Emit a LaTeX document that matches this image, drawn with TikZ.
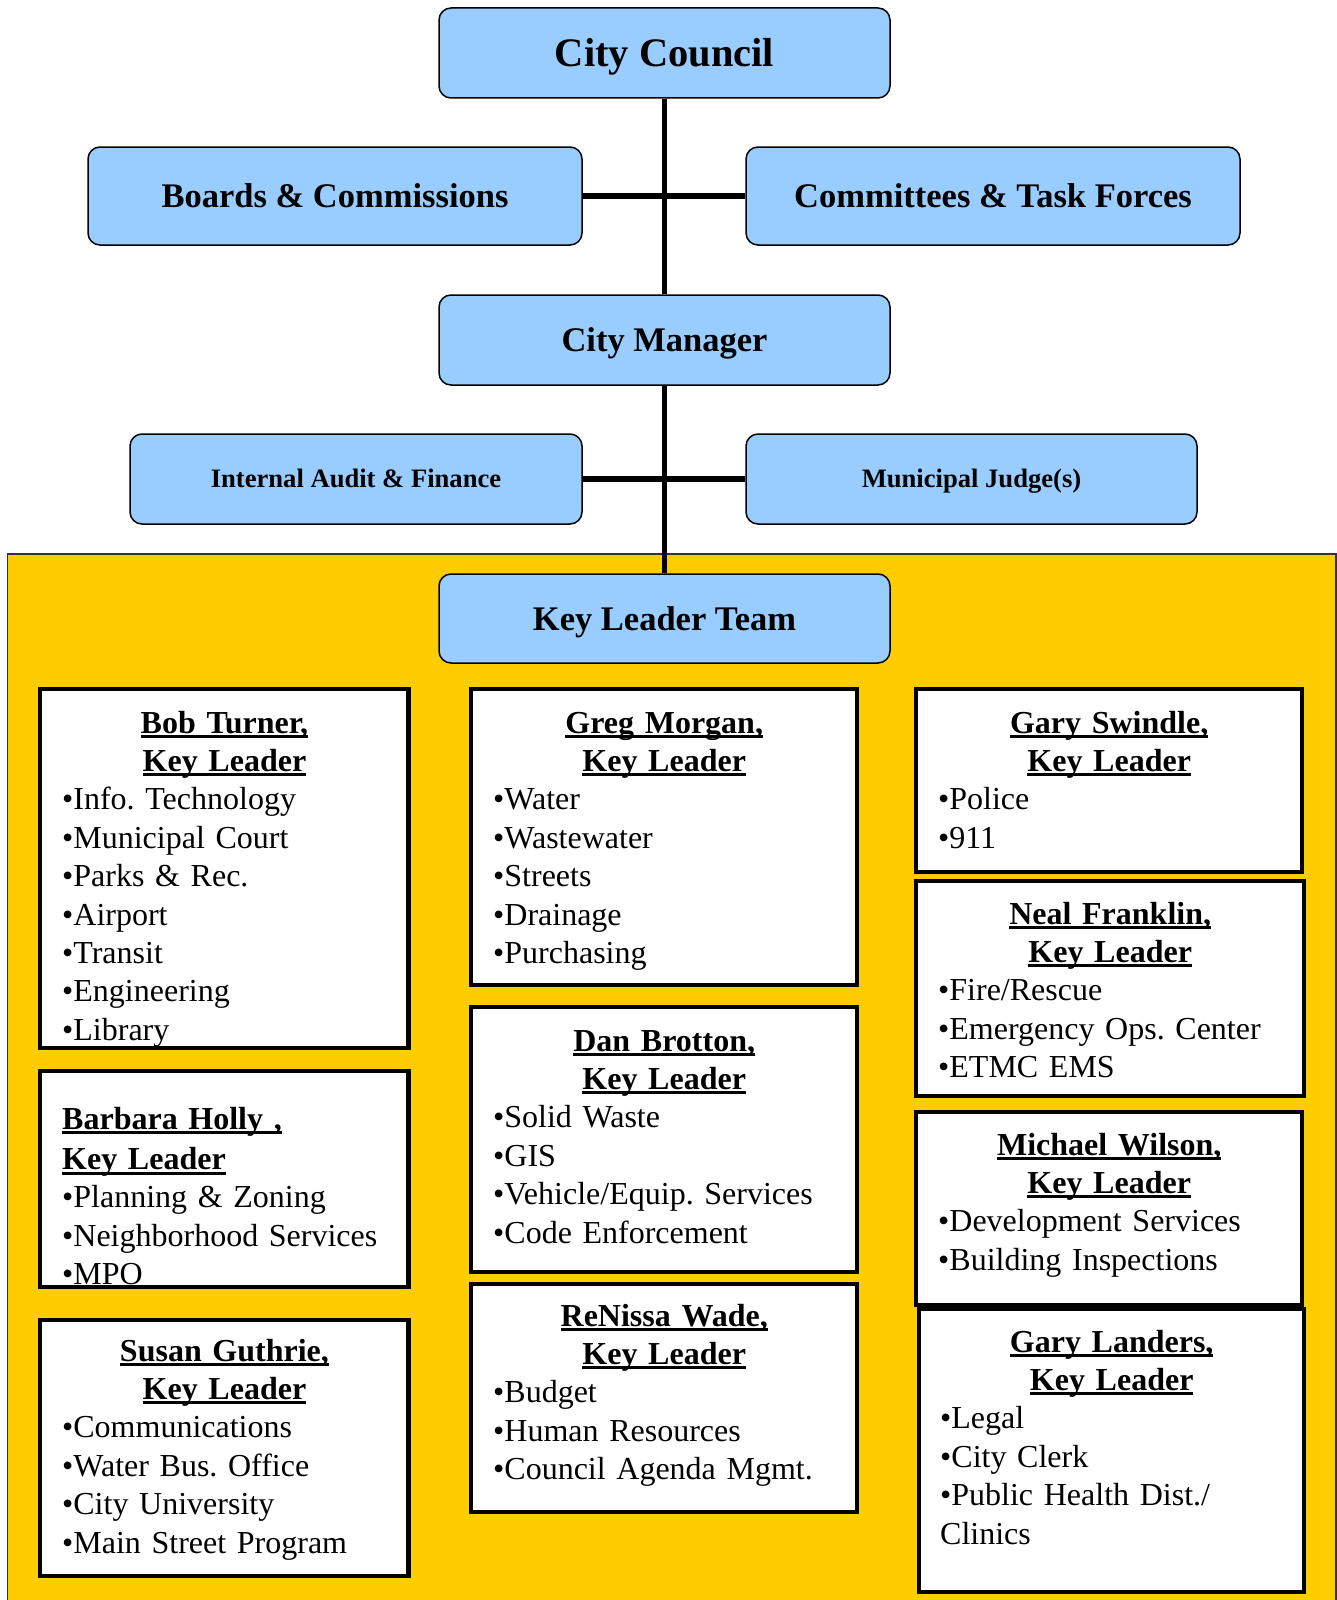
\documentclass[tikz,border=0pt]{standalone}
\usepackage{fontspec}
\setmainfont{Liberation Serif}
\frenchspacing
\pgfdeclarelayer{background}
\pgfsetlayers{background,main}
\definecolor{unitblue}{HTML}{99CCFF}
\definecolor{teamgold}{HTML}{FFCC00}
\newcommand{\klhead}[1]{\leavevmode\setbox0\hbox{\bfseries #1}\rlap{\vrule height -2pt depth 5pt width \wd0}\box0}
\tikzstyle{unit}=[draw,fill=unitblue,line width=1.5pt,rounded corners=12pt,inner sep=0pt,text height=23pt,text depth=0pt,font=\bfseries\fontsize{34.5}{40}\selectfont]
\tikzstyle{big unit}=[unit,text height=27pt,font=\bfseries\fontsize{40.5}{46}\selectfont]
\tikzstyle{small unit}=[unit,text height=17.5pt,font=\bfseries\fontsize{26.6}{32}\selectfont]
\tikzstyle{leader box}=[draw,fill=white,line width=4.5pt,anchor=north west,inner sep=0pt,outer sep=0pt]
\tikzstyle{leader text}=[anchor=base west,inner sep=0pt,align=left,font=\fontsize{32}{38.4}\selectfont]
\tikzstyle{edge}=[draw,line width=5pt,-]

\begin{document}
\begin{tikzpicture}[x=1pt,y=-1pt]
    \useasboundingbox (0,0) rectangle (1337,1600);
    % The key leader team area
    \begin{pgfonlayer}{background}
        \fill[teamgold] (7.5,554) rectangle (1336,1600);
        \draw[black!80,line width=1.5pt] (7.5,1600) |- (1336,554) -- (1336,1600);
    \end{pgfonlayer}

    % First the council and manager units
    \node[big unit,minimum width=451pt,minimum height=90pt] (council) at (664.5,53) {City Council};
    \node[unit,minimum width=494pt,minimum height=98pt] (boards) at (335,196) {Boards \& Commissions};
    \node[unit,minimum width=494pt,minimum height=98pt] (committees) at (993,196) {Committees \& Task Forces};
    \node[unit,minimum width=451pt,minimum height=90pt] (manager) at (664.5,340) {City Manager};
    \node[small unit,minimum width=452pt,minimum height=90pt] (audit) at (356,479) {Internal Audit \& Finance};
    \node[small unit,minimum width=451pt,minimum height=90pt] (judge) at (971.5,479) {Municipal Judge(s)};
    \node[unit,minimum width=451pt,minimum height=89pt] (team) at (664.5,618.5) {Key Leader Team};

    % Connect the units
    \foreach \source/\dest/\wd in {council/manager/5pt, manager/team/5pt, boards/committees/6pt, audit/judge/6pt}
        \path[edge,line width=\wd] (\source) -- (\dest);

    % Then the key leaders, left column
    \node[leader box,minimum width=368.5pt,minimum height=359pt] (turner) at (40,689) {};
    \node[leader text,text width=324.5pt] (turner-txt) at ([shift={(22,44)}]turner.north west)
        {{\centering\klhead{Bob Turner,}\\\klhead{Key Leader}\par}
        •Info. Technology\\•Municipal Court\\•Parks \& Rec.\\•Airport\\•Transit\\•Engineering\\•Library};
    \node[leader box,minimum width=368.5pt,minimum height=216pt] (holly) at (40,1071) {};
    \node[leader text,text width=324.5pt] (holly-txt) at ([shift={(22,58)}]holly.north west)
        {\klhead{Barbara Holly ,}\\[2.1pt]\klhead{Key Leader}\\•Planning \& Zoning\\•Neighborhood Services\\•MPO};
    \node[leader box,minimum width=368.5pt,minimum height=256pt] (guthrie) at (40,1320) {};
    \node[leader text,text width=324.5pt] (guthrie-txt) at ([shift={(22,41)}]guthrie.north west)
        {{\centering\klhead{Susan Guthrie,}\\\klhead{Key Leader}\par}
        •Communications\\•Water Bus. Office\\•City University\\•Main Street Program};

    % middle column
    \node[leader box,minimum width=386pt,minimum height=296pt] (morgan) at (471,689) {};
    \node[leader text,text width=342pt] (morgan-txt) at ([shift={(22,44)}]morgan.north west)
        {{\centering\klhead{Greg Morgan,}\\\klhead{Key Leader}\par}
        •Water\\•Wastewater\\•Streets\\•Drainage\\•Purchasing};
    \node[leader box,minimum width=386pt,minimum height=265pt] (brotton) at (471,1007) {};
    \node[leader text,text width=342pt] (brotton-txt) at ([shift={(22,44)}]brotton.north west)
        {{\centering\klhead{Dan Brotton,}\\\klhead{Key Leader}\par}
        •Solid Waste\\•GIS\\•Vehicle/Equip. Services\\•Code Enforcement};
    \node[leader box,minimum width=386pt,minimum height=228pt] (wade) at (471,1284) {};
    \node[leader text,text width=342pt] (wade-txt) at ([shift={(22,42)}]wade.north west)
        {{\centering\klhead{ReNissa Wade,}\\\klhead{Key Leader}\par}
        •Budget\\•Human Resources\\•Council Agenda Mgmt.};

    % right column
    \node[leader box,minimum width=386pt,minimum height=183pt] (swindle) at (916,689) {};
    \node[leader text,text width=342pt] (swindle-txt) at ([shift={(22,44)}]swindle.north west)
        {{\centering\klhead{Gary Swindle,}\\\klhead{Key Leader}\par}
        •Police\\•911};
    \node[leader box,minimum width=388pt,minimum height=215pt] (franklin) at (916,881) {};
    \node[leader text,text width=344pt] (franklin-txt) at ([shift={(22,43)}]franklin.north west)
        {{\centering\klhead{Neal Franklin,}\\\klhead{Key Leader}\par}
        •Fire/Rescue\\•Emergency Ops. Center\\•ETMC EMS};
    \node[leader box,minimum width=386pt,minimum height=193pt] (wilson) at (916,1112) {};
    \node[leader text,text width=342pt] (wilson-txt) at ([shift={(22,43)}]wilson.north west)
        {{\centering\klhead{Michael Wilson,}\\\klhead{Key Leader}\par}
        •Development Services\\•Building Inspections};
    \node[leader box,minimum width=385pt,minimum height=283pt] (landers) at (919,1309) {};
    \node[leader text,text width=343pt] (landers-txt) at ([shift={(21,43)}]landers.north west)
        {{\centering\klhead{Gary Landers,}\\\klhead{Key Leader}\par}
        •Legal\\•City Clerk\\•Public Health Dist./\\Clinics};
\end{tikzpicture}
\end{document}
